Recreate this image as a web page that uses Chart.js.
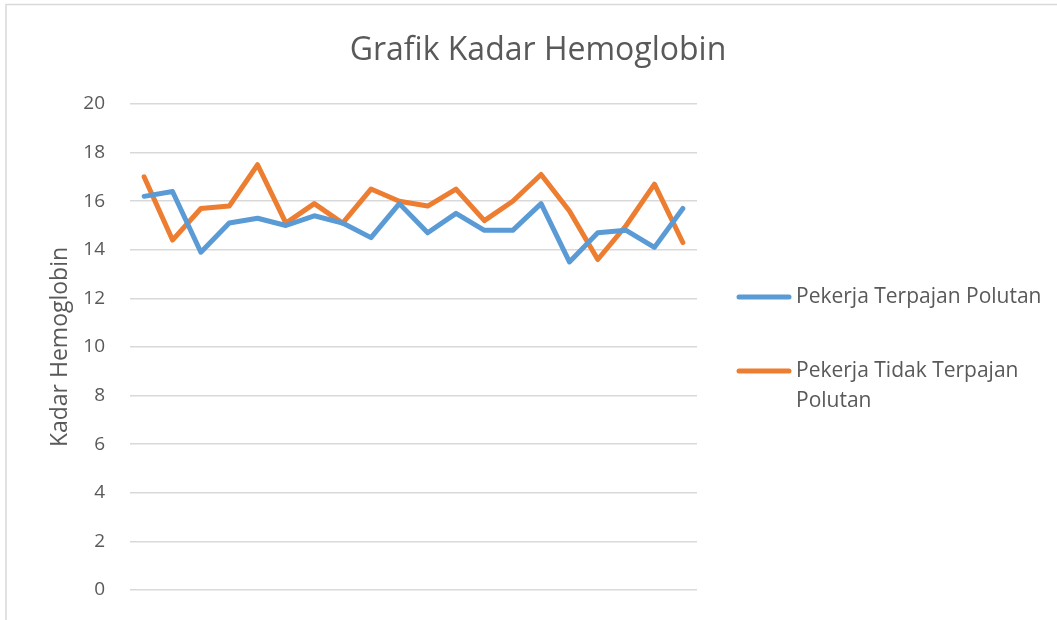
<!DOCTYPE html>
<html>
<head>
<meta charset="utf-8">
<script src="https://cdn.jsdelivr.net/npm/chart.js@4.4.0/dist/chart.umd.min.js"></script>
<style>
html, body { margin: 0; padding: 0; background: #fff; }
canvas { display: block; }
</style>
</head>
<body>
<canvas id="chart" width="1057" height="620"></canvas>
<script>
const chartTitle = 'Grafik Kadar Hemoglobin';
const axisTitle = 'Kadar Hemoglobin';
const labels = ['1', '2', '3', '4', '5', '6', '7', '8', '9', '10',
                '11', '12', '13', '14', '15', '16', '17', '18', '19', '20'];
const terpajan = [16.2, 16.4, 13.9, 15.1, 15.3, 15.0, 15.4, 15.1, 14.5, 15.9,
                  14.7, 15.5, 14.8, 14.8, 15.9, 13.5, 14.7, 14.8, 14.1, 15.7];
const tidakTerpajan = [17.0, 14.4, 15.7, 15.8, 17.5, 15.1, 15.9, 15.1, 16.5, 16.0,
                       15.8, 16.5, 15.2, 16.0, 17.1, 15.6, 13.6, 15.0, 16.7, 14.3];
const legendLines = [['Pekerja Terpajan Polutan'], ['Pekerja Tidak Terpajan', 'Polutan']];
const yTicks = [0, 2, 4, 6, 8, 10, 12, 14, 16, 18, 20];

const textColor = '#595959';
const fontFamily = '"Open Sans", sans-serif';

// frame, title and the wrapped legend on the right
const decor = {
    id: 'decor',
    beforeDraw(chart) {
        const ctx = chart.ctx;
        ctx.save();
        ctx.strokeStyle = '#d9d9d9';
        ctx.lineWidth = 1.5;
        ctx.strokeRect(6, 4.5, 1200, 800);
        ctx.restore();
    },
    afterDraw(chart) {
        const ctx = chart.ctx;
        ctx.save();
        ctx.fillStyle = textColor;
        ctx.font = '32px ' + fontFamily;
        ctx.textAlign = 'center';
        ctx.textBaseline = 'middle';
        ctx.fillText(chartTitle, 538, 51);

        const rows = [297, 371];
        chart.data.datasets.forEach((ds, i) => {
            const y = rows[i];
            ctx.strokeStyle = ds.borderColor;
            ctx.lineWidth = 5;
            ctx.lineCap = 'round';
            ctx.beginPath();
            ctx.moveTo(739, y);
            ctx.lineTo(789, y);
            ctx.stroke();
            ctx.font = '21px ' + fontFamily;
            ctx.textAlign = 'left';
            legendLines[i].forEach((line, j) => {
                ctx.fillText(line, 796, y + j * 30);
            });
        });
        ctx.restore();
    }
};

new Chart(document.getElementById('chart'), {
    type: 'line',
    data: {
        labels: labels,
        datasets: [{
            label: 'Pekerja Terpajan Polutan',
            data: terpajan,
            borderColor: '#5b9bd5',
            backgroundColor: '#5b9bd5',
            borderWidth: 5,
            pointRadius: 0,
            borderJoinStyle: 'round',
            borderCapStyle: 'round'
        }, {
            label: 'Pekerja Tidak Terpajan Polutan',
            data: tidakTerpajan,
            borderColor: '#ed7d31',
            backgroundColor: '#ed7d31',
            borderWidth: 5,
            pointRadius: 0,
            borderJoinStyle: 'round',
            borderCapStyle: 'round'
        }]
    },
    options: {
        responsive: false,
        animation: false,
        devicePixelRatio: 1,
        layout: {
            padding: { left: 47, right: 360, top: 104, bottom: 30 }
        },
        plugins: {
            legend: { display: false },
            title: { display: false },
            tooltip: { enabled: false }
        },
        scales: {
            x: {
                display: false,
                offset: true
            },
            y: {
                min: 0,
                max: 20,
                afterBuildTicks: scale => {
                    scale.ticks = yTicks.map(v => ({ value: v }));
                },
                afterFit: scale => {
                    scale.width = 83;
                    scale.paddingTop = 0;
                    scale.paddingBottom = 0;
                },
                border: { display: false },
                grid: { color: '#d9d9d9', lineWidth: 1.5, drawTicks: false },
                ticks: {
                    color: textColor,
                    padding: 25,
                    font: { family: fontFamily, size: 19 }
                },
                title: {
                    display: true,
                    text: axisTitle,
                    color: textColor,
                    padding: { top: 0, bottom: 0 },
                    font: { family: fontFamily, size: 23 }
                }
            }
        }
    },
    plugins: [decor]
});
</script>
</body>
</html>
